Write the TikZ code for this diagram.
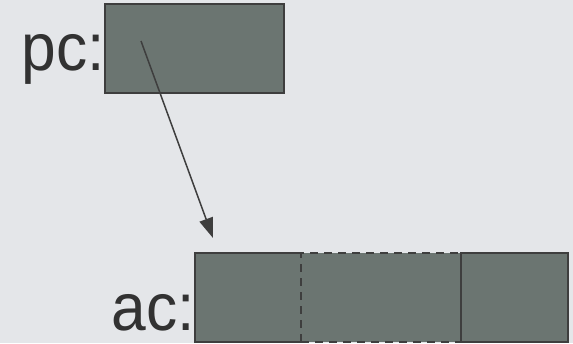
\documentclass[tikz,border=0pt]{standalone}
\usepackage{fontspec}
\setmainfont{Liberation Sans}
\newfontfamily\tagfont[FakeStretch=0.93]{Liberation Sans}
\usetikzlibrary{arrows.meta, positioning}

\definecolor{backdrop}{RGB}{228,230,233}
\definecolor{cellfill}{RGB}{107,117,113}
\definecolor{edge}{RGB}{62,62,62}

\begin{document}
\begin{tikzpicture}[x=1pt, y=-1pt,
    cell/.style={fill=cellfill, rectangle, inner sep=0pt, outer sep=0pt, minimum height=89pt},
    tag/.style={font=\tagfont\fontsize{67}{67}\selectfont, text=edge!80!black, inner sep=0pt, anchor=base east}]
  \fill[backdrop] (0,0) rectangle (573,343);
  \useasboundingbox (0,0) rectangle (573,343);

  % register holding the pointer
  \node [cell, draw=edge, line width=2pt, minimum width=179pt] (pc) at (194.5,48.5) {};
  \node [tag] (pclabel) at (105,70) {pc:};

  % accumulator, three slots
  \node [cell, minimum width=106pt] (ac1) at (248,297.5) {};
  \node [cell, draw=edge, line width=2pt, dash pattern=on 8pt off 6pt, minimum width=160pt, right=0pt of ac1] (ac2) {};
  \node [cell, draw=edge, line width=2pt, minimum width=107pt, right=0pt of ac2] (ac3) {};
  \draw [edge, line width=2pt] (ac1.north east) -- (ac1.north west) -- (ac1.south west) -- (ac1.south east);
  \node [tag, text depth=0pt] (aclabel) at (195,330) {ac:};

  \coordinate (from) at (141,41);
  \coordinate (to) at (213,238);
  \draw [edge, line width=1.5pt, -{Triangle[length=20pt, width=14pt]}] (from) -- (to);
\end{tikzpicture}
\end{document}
